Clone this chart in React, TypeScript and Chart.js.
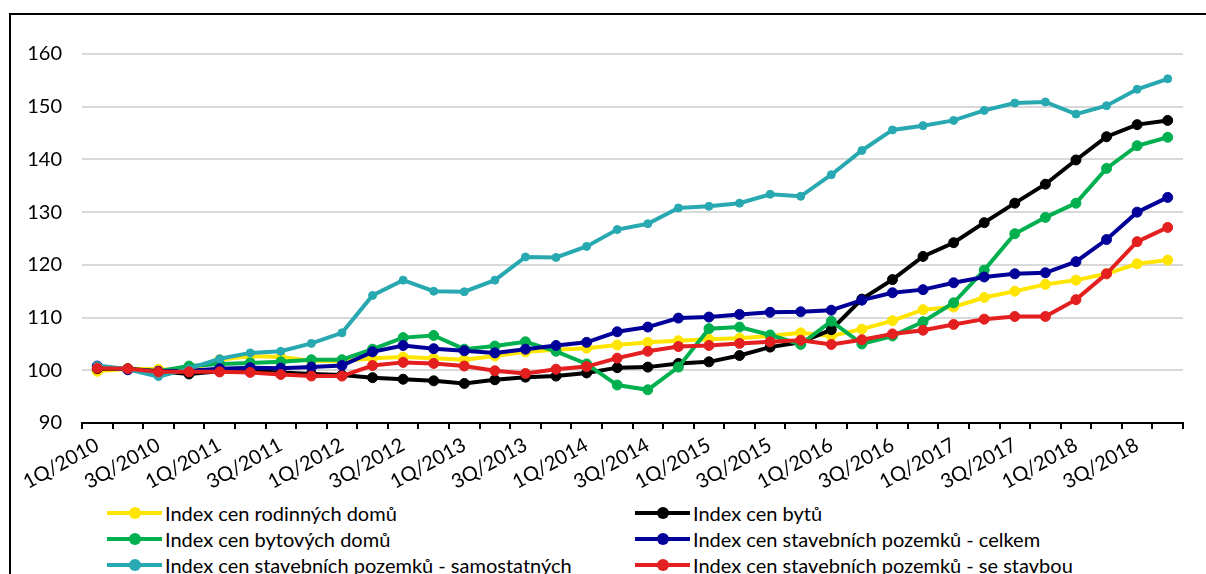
import React, { useEffect, useRef } from 'react';
import { Chart, registerables } from 'chart.js';

Chart.register(...registerables);

const quarters = [
  '1Q/2010', '2Q/2010', '3Q/2010', '4Q/2010',
  '1Q/2011', '2Q/2011', '3Q/2011', '4Q/2011',
  '1Q/2012', '2Q/2012', '3Q/2012', '4Q/2012',
  '1Q/2013', '2Q/2013', '3Q/2013', '4Q/2013',
  '1Q/2014', '2Q/2014', '3Q/2014', '4Q/2014',
  '1Q/2015', '2Q/2015', '3Q/2015', '4Q/2015',
  '1Q/2016', '2Q/2016', '3Q/2016', '4Q/2016',
  '1Q/2017', '2Q/2017', '3Q/2017', '4Q/2017',
  '1Q/2018', '2Q/2018', '3Q/2018', '4Q/2018',
];

const rodinneDomy = [99.8, 100.3, 100.2, 100.0, 102.0, 102.7, 102.5, 101.8, 101.7, 102.3, 102.5, 102.3, 102.0, 102.7, 103.5, 103.9, 104.2, 104.8, 105.3, 105.6, 105.9, 106.1, 106.5, 107.1, 106.5, 107.8, 109.4, 111.5, 112.0, 113.8, 115.0, 116.3, 117.1, 118.3, 120.2, 120.9];
const byty = [100.3, 100.3, 99.8, 99.3, 99.8, 99.8, 99.6, 99.3, 99.1, 98.6, 98.3, 98.0, 97.5, 98.2, 98.7, 98.9, 99.5, 100.5, 100.6, 101.3, 101.6, 102.8, 104.4, 105.3, 107.7, 113.5, 117.2, 121.6, 124.2, 128.0, 131.7, 135.3, 139.9, 144.3, 146.6, 147.4];
const bytoveDomy = [100.6, 100.2, 99.8, 100.8, 101.2, 101.4, 101.6, 102.0, 102.0, 104.0, 106.2, 106.6, 104.0, 104.6, 105.4, 103.6, 101.2, 97.2, 96.3, 100.6, 107.9, 108.2, 106.7, 104.9, 109.3, 105.0, 106.5, 109.2, 112.8, 119.0, 125.9, 129.0, 131.7, 138.3, 142.6, 144.2];
const pozemkyCelkem = [100.8, 100.1, 99.8, 99.9, 100.3, 100.5, 100.4, 100.6, 100.9, 103.5, 104.7, 104.1, 103.7, 103.3, 104.0, 104.7, 105.3, 107.3, 108.2, 109.9, 110.1, 110.6, 111.0, 111.1, 111.4, 113.3, 114.7, 115.3, 116.6, 117.7, 118.3, 118.5, 120.6, 124.8, 130.0, 132.8];
const pozemkySamostatne = [100.9, 100.2, 98.8, 100.3, 102.2, 103.3, 103.6, 105.1, 107.1, 114.2, 117.1, 115.0, 114.9, 117.1, 121.5, 121.4, 123.5, 126.7, 127.8, 130.8, 131.1, 131.7, 133.4, 133.0, 137.1, 141.7, 145.6, 146.4, 147.4, 149.3, 150.7, 150.9, 148.6, 150.2, 153.3, 155.3];
const pozemkySeStavbou = [100.4, 100.3, 99.7, 99.7, 99.7, 99.6, 99.2, 98.9, 98.9, 100.9, 101.5, 101.3, 100.8, 99.9, 99.4, 100.2, 100.7, 102.3, 103.6, 104.5, 104.7, 105.1, 105.4, 105.7, 104.9, 105.8, 106.9, 107.6, 108.7, 109.7, 110.2, 110.2, 113.4, 118.3, 124.4, 127.1];

const seriesLabels = [
  'Index cen rodinných domů',
  'Index cen bytů',
  'Index cen bytových domů',
  'Index cen stavebních pozemků - celkem',
  'Index cen stavebních pozemků - samostatných',
  'Index cen stavebních pozemků - se stavbou',
];
const seriesColors = ['#FFE500', '#000000', '#00B04F', '#000099', '#28A9B1', '#E3201F'];
const seriesData = [rodinneDomy, byty, bytoveDomy, pozemkyCelkem, pozemkySamostatne, pozemkySeStavbou];
const smallMarker = [false, false, false, false, true, false];

const FONT = 'Lato, "Open Sans", sans-serif';
const FONT_SIZE = 20;
const W = 1206;
const H = 500;

export default function App() {
  const ref = useRef<HTMLCanvasElement>(null);

  useEffect(() => {
    const canvas = ref.current;
    if (!canvas) return;
    const n = seriesData.length;
    const chart = new Chart(canvas, {
      type: 'line',
      data: {
        labels: quarters,
        datasets: seriesData.map((d, i) => ({
          label: seriesLabels[i],
          data: d,
          borderColor: seriesColors[i],
          backgroundColor: seriesColors[i],
          pointBackgroundColor: seriesColors[i],
          pointBorderColor: seriesColors[i],
          borderWidth: 4,
          pointRadius: smallMarker[i] ? 4 : 5,
          pointBorderWidth: 1,
          tension: 0,
          fill: false,
          order: n - i,
        })),
      },
      options: {
        responsive: false,
        animation: false,
        layout: { padding: { top: 54, right: 23, left: 0, bottom: 0 } },
        plugins: { legend: { display: false }, tooltip: { enabled: false } },
        scales: {
          x: {
            offset: true,
            grid: { offset: true, drawOnChartArea: false, color: '#000', lineWidth: 2, tickLength: 6 },
            border: { color: '#000', width: 2 },
            ticks: {
              autoSkip: false,
              maxRotation: 29,
              minRotation: 29,
              padding: 4,
              color: '#000',
              font: { family: FONT, size: FONT_SIZE },
              callback: (_v: any, i: number) => (i % 2 === 0 ? quarters[i] : ''),
            },
            afterFit: (s: any) => { s.height = H - 423; },
          },
          y: {
            min: 90,
            max: 160,
            ticks: { stepSize: 10, padding: 20, color: '#000', font: { family: FONT, size: FONT_SIZE } },
            grid: { color: '#D9D9D9', lineWidth: 2, drawTicks: false },
            border: { display: false },
            afterFit: (s: any) => { s.width = 82; },
          },
        },
      },
    } as any);
    return () => chart.destroy();
  }, []);

  const colLine = [107, 635];
  const rowY = [513, 539, 565];

  return (
    <>
      <div style={{ position: 'absolute', left: 9, top: 13, width: W - 9, height: 574 - 13, borderTop: '2px solid #000', borderLeft: '2px solid #000', boxSizing: 'border-box', pointerEvents: 'none' }} />
      <canvas ref={ref} width={W} height={H} style={{ position: 'absolute', left: 0, top: 0, width: W, height: H }} />
      {seriesLabels.map((label, i) => {
        const col = i % 2;
        const row = Math.floor(i / 2);
        return (
          <div key={label} style={{ position: 'absolute', left: colLine[col], top: rowY[row] - 13, height: 26, display: 'flex', alignItems: 'center', whiteSpace: 'nowrap', fontFamily: FONT, fontSize: FONT_SIZE, color: '#000' }}>
            <div style={{ position: 'relative', width: 55, height: 4, background: seriesColors[i] }}>
              <div style={{ position: 'absolute', left: 21.5, top: -4, width: 12, height: 12, borderRadius: '50%', background: seriesColors[i] }} />
            </div>
            <span style={{ marginLeft: 3 }}>{label}</span>
          </div>
        );
      })}
    </>
  );
}
